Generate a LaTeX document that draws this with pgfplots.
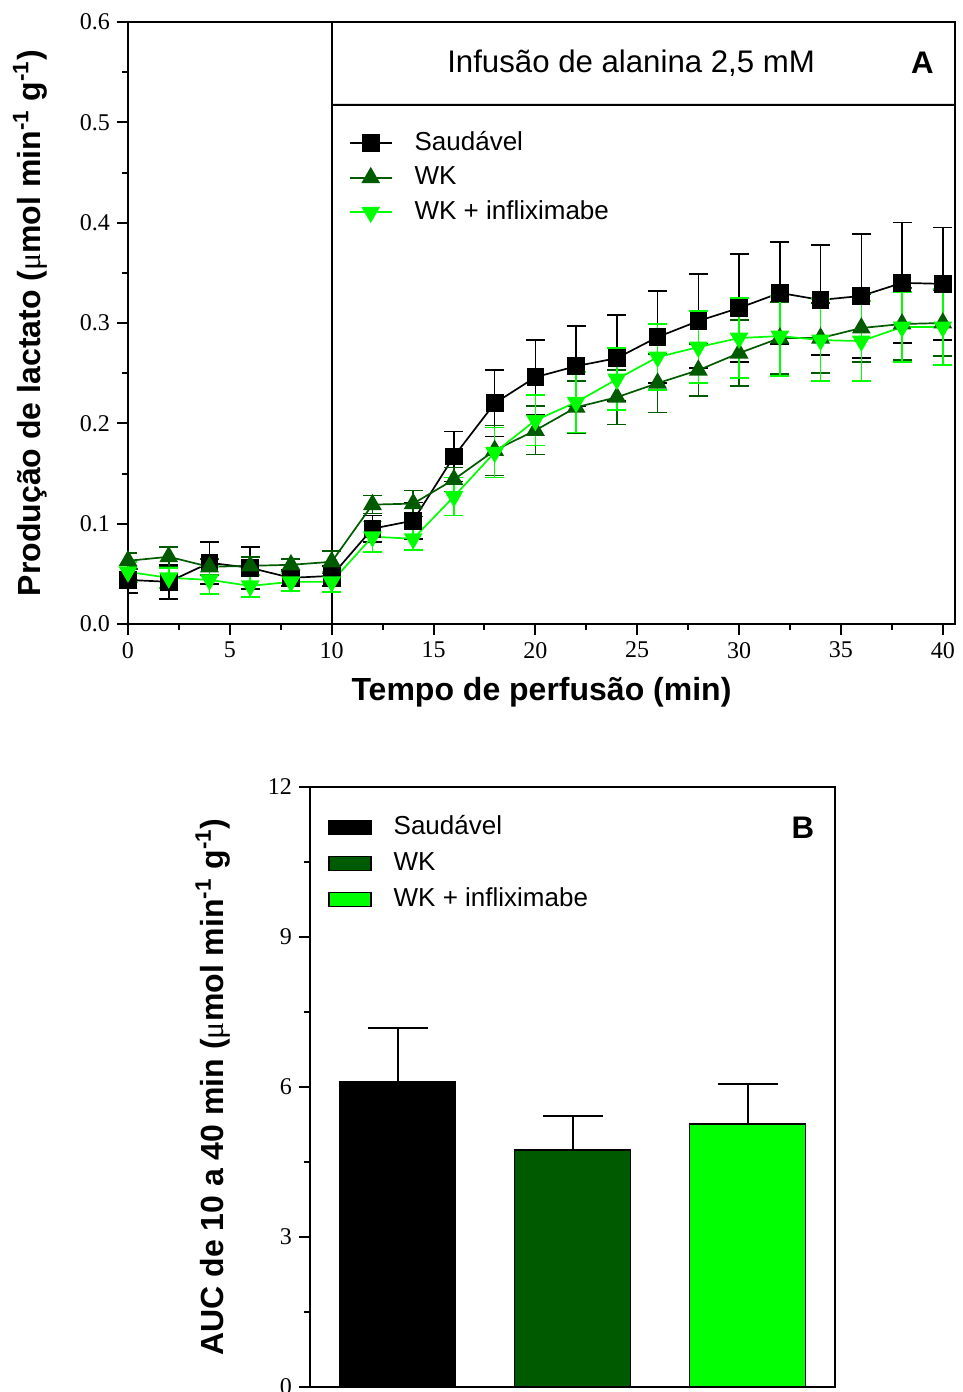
\documentclass[border=0pt]{standalone}
\usepackage{fontspec}
\setmainfont{Liberation Sans}
\newfontfamily\serif{Liberation Serif}
\usepackage{pgfplots}
\pgfplotsset{compat=1.18}
\usepackage{pgfplotstable}

\definecolor{wk}{RGB}{0,90,0}
\definecolor{inf}{RGB}{0,255,0}

% lactate output, mean and SEM
\pgfplotstableread{
t m e
0 0.044 0.013
2 0.042 0.017
4 0.061 0.021
6 0.056 0.021
8 0.046 0.008
10 0.048 0.010
12 0.095 0.013
14 0.103 0.018
16 0.167 0.025
18 0.220 0.033
20 0.246 0.037
22 0.257 0.040
24 0.265 0.043
26 0.286 0.046
28 0.302 0.047
30 0.315 0.054
32 0.330 0.051
34 0.323 0.055
36 0.327 0.062
38 0.340 0.060
40 0.339 0.056
}\saud
\pgfplotstableread{
t m e
0 0.063 0.008
2 0.067 0.010
4 0.057 0.008
6 0.058 0.009
8 0.059 0.006
10 0.062 0.011
12 0.119 0.009
14 0.120 0.013
16 0.144 0.012
18 0.173 0.025
20 0.193 0.024
22 0.216 0.026
24 0.226 0.027
26 0.240 0.029
28 0.253 0.026
30 0.270 0.033
32 0.285 0.036
34 0.285 0.035
36 0.295 0.034
38 0.299 0.036
40 0.300 0.033
}\wkdata
\pgfplotstableread{
t m e
0 0.052 0.010
2 0.046 0.010
4 0.044 0.014
6 0.038 0.011
8 0.042 0.009
10 0.042 0.010
12 0.087 0.015
14 0.085 0.011
16 0.127 0.019
18 0.171 0.025
20 0.203 0.025
22 0.221 0.030
24 0.244 0.031
26 0.266 0.033
28 0.276 0.036
30 0.285 0.040
32 0.287 0.040
34 0.283 0.041
36 0.282 0.040
38 0.296 0.035
40 0.296 0.038
}\infdata

\pgfplotsset{
  panel/.style={scale only axis, tick pos=left, tick align=outside,
    axis line style={line width=1pt}, every tick/.style={black, line width=1pt},
    major tick length=5.5pt, minor tick length=3pt,
    tick label style={font=\serif\fontsize{12}{12}\selectfont},
    /pgf/number format/assume math mode=true,
    label style={font=\bfseries\fontsize{16}{16}\selectfont}},
  errs/.style={error bars/.cd, y dir=both, y explicit,
    error bar style={line width=0.8pt, solid},
    error mark options={rotate=90, mark size=4.75pt, line width=0.8pt}},
  lineleg/.style={legend image code/.code={
    \draw[mark repeat=2, mark phase=2, ##1] plot coordinates {(0pt,0pt) (10.5pt,0pt) (21pt,0pt)};}},
  boxleg/.style={legend image code/.code={
    \draw[##1, draw=black, line width=0.6pt] (0pt,-3.6pt) rectangle (21pt,3.6pt);}},
}

\begin{document}
\begin{tikzpicture}
\useasboundingbox (0,0) rectangle (481.5pt,-696pt);

% panel A
\begin{axis}[panel, at={(64pt,-312pt)}, anchor=south west,
  width=413.5pt, height=301pt,
  xmin=0, xmax=40.6, ymin=0, ymax=0.6,
  xtick={0,5,...,40}, minor x tick num=1,
  ytick={0,0.1,...,0.6}, minor y tick num=1,
  yticklabel style={/pgf/number format/.cd, fixed, fixed zerofill, precision=1},
  extra x ticks={10}, extra x tick labels={},
  extra x tick style={grid=major, major grid style={black, line width=1pt}},
  xlabel={Tempo de perfusão (min)},
  ylabel={Produção de lactato ({\serif\mdseries μ}mol min\textsuperscript{-1} g\textsuperscript{-1})},
  xlabel style={at={(axis description cs:0.5,-0.113)}, anchor=center},
  ylabel style={at={(axis description cs:-0.118,0.5)}, anchor=center},
  lineleg,
  legend style={at={(axis cs:10.53,0.4955)}, anchor=north west, draw=none, fill=none,
    font=\fontsize{13}{13}\selectfont, row sep=5.25pt, column sep=11pt,
    nodes={inner sep=0pt, text height=9.5pt, text depth=2.5pt}},
  legend cell align=left]
\addplot[black, line width=0.85pt, mark=square*, mark size=4pt, mark options={solid, fill=black}, errs]
  table[x=t, y=m, y error=e] {\saud};
\addlegendentry{Saudável}
\addplot[wk, line width=0.85pt, mark=triangle*, mark size=4.6pt, mark options={solid, fill=wk}, errs]
  table[x=t, y=m, y error=e] {\wkdata};
\addlegendentry{WK}
\addplot[inf, line width=0.85pt, mark=triangle*, mark size=4.6pt, mark options={solid, fill=inf, rotate=180}, errs]
  table[x=t, y=m, y error=e] {\infdata};
\addlegendentry{WK + infliximabe}
\draw[line width=1pt] (axis cs:10,0.5175) -- (rel axis cs:1,0.8625);
\node[font=\fontsize{15.6}{15.6}\selectfont] at (axis cs:24.7,0.559) {Infusão de alanina 2,5 mM};
\node[font=\bfseries\fontsize{15.6}{15.6}\selectfont] at (axis cs:39.0,0.559) {A};
\end{axis}

% panel B
\begin{axis}[panel, at={(155pt,-693.5pt)}, anchor=south west,
  width=262.5pt, height=300pt,
  ybar, bar width=58pt,
  xmin=0.5, xmax=3.5, ymin=0, ymax=12,
  xtick=\empty, ytick={0,3,...,12}, minor y tick num=1,
  ylabel={AUC de 10 a 40 min ({\serif\mdseries μ}mol min\textsuperscript{-1} g\textsuperscript{-1})},
  ylabel style={at={(axis description cs:-0.185,0.5)}, anchor=center},
  boxleg,
  legend style={at={(axis cs:0.569,11.52)}, anchor=north west, draw=none, fill=none,
    font=\fontsize{13}{13}\selectfont, row sep=6pt, column sep=11pt,
    nodes={inner sep=0pt, text height=9.5pt, text depth=2.5pt}},
  legend cell align=left]
\addplot[fill=black, draw=black, line width=0.6pt, bar shift=0pt,
  error bars/.cd, y dir=plus, y explicit, error bar style={black, line width=1pt},
  error mark options={rotate=90, mark size=15pt, line width=1pt}]
  coordinates {(1,6.10) +- (0,1.08)};
\addlegendentry{Saudável}
\addplot[fill=wk, draw=black, line width=0.6pt, bar shift=0pt,
  error bars/.cd, y dir=plus, y explicit, error bar style={black, line width=1pt},
  error mark options={rotate=90, mark size=15pt, line width=1pt}]
  coordinates {(2,4.74) +- (0,0.68)};
\addlegendentry{WK}
\addplot[fill=inf, draw=black, line width=0.6pt, bar shift=0pt,
  error bars/.cd, y dir=plus, y explicit, error bar style={black, line width=1pt},
  error mark options={rotate=90, mark size=15pt, line width=1pt}]
  coordinates {(3,5.26) +- (0,0.80)};
\addlegendentry{WK + infliximabe}
\node[font=\bfseries\fontsize{15.6}{15.6}\selectfont] at (axis cs:3.317,11.18) {B};
\end{axis}
\end{tikzpicture}
\end{document}
